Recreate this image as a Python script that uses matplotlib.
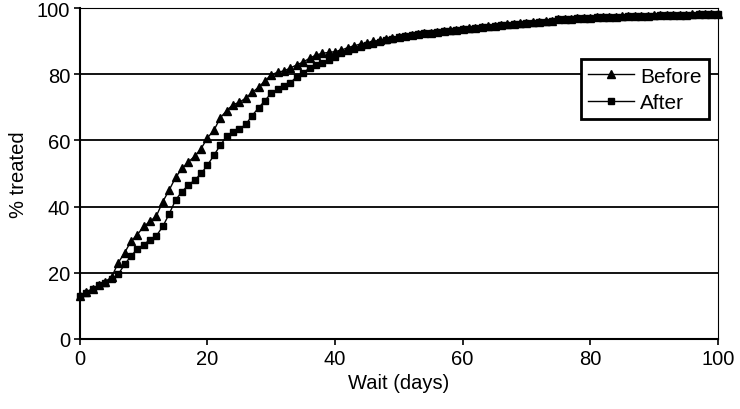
import matplotlib
matplotlib.use("Agg")
import matplotlib.pyplot as plt

plt.rcParams['font.family'] = ['Liberation Sans', 'DejaVu Sans']

# wait in days (one point per day)
days = list(range(0, 101))

# % treated, before the change
before = [13.0, 14.2, 15.2, 16.3, 17.3, 18.8, 23.0, 26.0, 29.5, 31.5,
          34.0, 35.5, 37.2, 41.5, 45.0, 48.8, 51.5, 53.5, 55.2, 57.5,
          60.8, 63.0, 66.8, 69.0, 70.8, 71.5, 72.8, 74.5, 76.0, 78.0,
          79.8, 80.6, 81.0, 81.9, 82.8, 83.7, 84.8, 85.8, 86.3, 86.6,
          86.8, 87.3, 88.0, 88.6, 89.1, 89.5, 89.9, 90.3, 90.7, 91.0,
          91.3, 91.6, 91.9, 92.1, 92.4, 92.6, 92.9, 93.1, 93.3, 93.5,
          93.7, 93.9, 94.1, 94.3, 94.5, 94.7, 94.9, 95.1, 95.3, 95.4,
          95.6, 95.7, 95.8, 96.0, 96.1, 96.6, 96.7, 96.8, 96.9, 97.0,
          97.1, 97.2, 97.3, 97.3, 97.4, 97.5, 97.5, 97.6, 97.7, 97.7,
          97.8, 97.8, 97.9, 97.9, 98.0, 98.0, 98.1, 98.1, 98.2, 98.2,
          98.3]

# % treated, after the change
after = [13.0, 14.0, 15.0, 16.2, 17.0, 18.0, 19.5, 22.5, 25.0, 27.2,
         28.5, 30.0, 31.2, 34.0, 37.8, 42.0, 44.5, 46.5, 48.0, 50.0,
         52.5, 55.5, 58.5, 61.2, 62.5, 63.5, 64.8, 67.5, 69.8, 72.0,
         74.3, 75.4, 76.4, 77.4, 79.3, 80.5, 81.8, 82.7, 83.4, 84.2,
         85.2, 86.3, 86.9, 87.5, 88.2, 88.7, 89.2, 89.7, 90.2, 90.7,
         91.1, 91.5, 91.8, 92.0, 92.3, 92.5, 92.8, 93.0, 93.2, 93.4,
         93.6, 93.8, 94.0, 94.2, 94.4, 94.6, 94.8, 95.0, 95.2, 95.3,
         95.5, 95.6, 95.7, 95.9, 96.0, 96.6, 96.7, 96.8, 96.9, 97.0,
         97.1, 97.2, 97.2, 97.3, 97.4, 97.4, 97.5, 97.6, 97.6, 97.7,
         97.7, 97.8, 97.8, 97.9, 97.9, 98.0, 98.0, 98.1, 98.1, 98.2,
         98.2]

fig = plt.figure(figsize=(7.4, 4.1), dpi=100)
ax = fig.add_axes([0.108, 0.171, 0.862, 0.807])

ax.plot(days, before, color='black', lw=1.0, marker='^', markersize=6,
        label='Before', clip_on=False, zorder=3)
ax.plot(days, after, color='black', lw=1.0, marker='s', markersize=5,
        label='After', clip_on=False, zorder=3)

ax.set_xlim(0, 100)
ax.set_ylim(0, 100)
ax.set_xticks([0, 20, 40, 60, 80, 100])
ax.set_yticks([0, 20, 40, 60, 80, 100])
for v in [20, 40, 60, 80]:
    ax.axhline(v, color='black', lw=1.3, zorder=1)

ax.spines['left'].set_linewidth(1.5)
ax.spines['bottom'].set_linewidth(1.5)
ax.spines['top'].set_linewidth(0.8)
ax.spines['right'].set_linewidth(0.8)
ax.tick_params(direction='out', length=4, width=1.2, labelsize=14.5, pad=3)

ax.set_xlabel('Wait (days)', fontsize=14.5, labelpad=4)
ax.set_ylabel('% treated', fontsize=14.5, labelpad=6)

leg = ax.legend(loc='upper right', bbox_to_anchor=(0.986, 0.845), fontsize=15,
                frameon=True, fancybox=False, edgecolor='black',
                handlelength=2.2, handletextpad=0.3, borderpad=0.35,
                labelspacing=0.35, borderaxespad=0)
leg.get_frame().set_linewidth(2)
leg.get_frame().set_alpha(1)

fig.savefig('out.png', dpi=100)
